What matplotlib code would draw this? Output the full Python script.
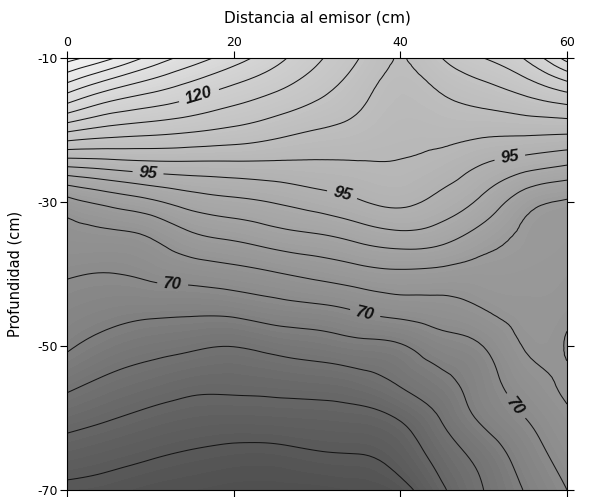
import numpy as np
import matplotlib
matplotlib.use("Agg")
import matplotlib.pyplot as plt
import matplotlib.tri as mtri
from matplotlib.colors import LinearSegmentedColormap, Normalize

plt.rcParams['font.family'] = ['DejaVu Sans']
plt.rcParams['axes.unicode_minus'] = False

# Distance from emitter (cm) and depth (cm) of the grid nodes
distance = [0, 5, 10, 15, 20, 25, 30, 35, 40, 45, 50, 55, 60]
depth = [-10, -15, -20, -25, -30, -35, -40, -45, -50, -55, -60, -65, -70]

# Field values, one list per depth
d10 = [152, 146, 138.6, 132.6, 127.3, 121.7, 115.8, 110.1, 104.8, 110, 115, 120.5, 132]
d15 = [134.6, 128.3, 124.6, 121.2, 117.7, 114.6, 111, 106.5, 103, 105, 107.5, 110.5, 114.2]
d20 = [116.1, 113.3, 112, 110.7, 109.1, 107, 104.9, 103.3, 101.5, 101.7, 101.4, 101.4, 101.3]
d25 = [95.4, 96.7, 97.9, 98.3, 98.5, 98.7, 99, 99.4, 99.6, 97.9, 94.6, 91.8, 89.7]
d30 = [78.3, 81.4, 84, 87.2, 88.8, 90.3, 92.3, 94.5, 96, 93.3, 88.6, 82, 79.5]
d35 = [73.1, 73.6, 75, 78.8, 80.6, 82.6, 84, 86.2, 88, 86.6, 82.4, 79, 78]
d40 = [70.4, 69.9, 70.8, 72, 73.1, 74.6, 76.3, 78, 79, 78.5, 78, 77.8, 77]
d45 = [68, 66.8, 66.2, 66, 66.4, 67.8, 68.7, 70.4, 72, 73, 74.9, 76.6, 76]
d50 = [65.6, 63.2, 61.7, 60.7, 60.1, 61.4, 62.4, 63.6, 64.6, 67.7, 70.1, 75.3, 74.7]
d55 = [61.4, 59.1, 57.6, 56.4, 56.2, 56.6, 57.1, 58.1, 60.6, 63.7, 67.9, 72.8, 75.6]
d60 = [56.8, 55.3, 53.9, 52.9, 52.6, 52.8, 53.1, 53.5, 55.4, 60.4, 66, 70, 74.1]
d65 = [52.7, 51.6, 50.5, 49.6, 49, 49, 49.7, 50, 52, 57.2, 62, 67.4, 72]
d70 = [49, 48.5, 47.5, 47, 46.5, 46.5, 46.5, 47, 48.5, 54.3, 60, 65.3, 70]

x_ticks = [0, 20, 40, 60]
y_ticks = [-10, -30, -50, -70]
y_tick_labels = ['-10', '-30', '-50', '-70']
labelled_levels = [70, 95, 120]

Z = np.array([d10, d15, d20, d25, d30, d35, d40, d45, d50, d55, d60, d65, d70])
X, Y = np.meshgrid(distance, depth)

# smooth rendering of the grid through matplotlib's triangulation refiner
triang = mtri.Triangulation(X.ravel(), Y.ravel())
refiner = mtri.UniformTriRefiner(triang)
tri_fine, z_fine = refiner.refine_field(Z.ravel(), subdiv=3)

cmap = LinearSegmentedColormap.from_list(
    'surfer_grey',
    [(0.0, (0.30, 0.30, 0.30)),
     (0.09, (0.40, 0.40, 0.40)),
     (0.23, (0.55, 0.55, 0.55)),
     (0.36, (0.64, 0.64, 0.64)),
     (0.50, (0.72, 0.72, 0.72)),
     (0.68, (0.81, 0.81, 0.81)),
     (1.0, (0.97, 0.97, 0.97))])
norm = Normalize(vmin=45, vmax=155)

fig = plt.figure(figsize=(5.92, 4.97), dpi=100)
ax = fig.add_axes([0.1132, 0.0141, 0.8446, 0.8692])

ax.tricontourf(tri_fine, z_fine, levels=np.arange(40, 160, 1), cmap=cmap, norm=norm)
line_levels = [v for v in range(50, 155, 5) if v not in labelled_levels]
ax.tricontour(tri_fine, z_fine, levels=line_levels, colors='#151515', linewidths=0.75)
cs_lab = ax.tricontour(tri_fine, z_fine, levels=labelled_levels, colors='#151515',
                       linewidths=0.75)
label_pos = [(16, -15.8), (9.7, -26.3), (33, -29), (53, -23),
             (12.7, -41), (35.8, -45.3), (54, -58.2)]
texts = ax.clabel(cs_lab, manual=label_pos, fmt='%d',
                  fontsize=12, inline=True, inline_spacing=5)
for t in texts:
    t.set_fontweight('bold')
    t.set_fontfamily('Liberation Sans')
    t.set_fontstyle('italic')
    t.set_color('#111111')

ax.set_xlim(0, 60)
ax.set_ylim(-70, -10)
ax.xaxis.tick_top()
ax.set_xticks(x_ticks)
ax.set_xticklabels([str(v) for v in x_ticks])
ax.set_yticks(y_ticks)
ax.set_yticklabels(y_tick_labels)
ax.tick_params(axis='both', direction='out', length=5, width=0.8, labelsize=9,
               top=True, bottom=True, left=True, right=True,
               labeltop=True, labelbottom=False, labelleft=True, labelright=False,
               pad=1.5)
ax.xaxis.set_label_position('top')
ax.set_xlabel('Distancia al emisor (cm)', fontsize=11, labelpad=10)
ax.set_ylabel('Profundidad (cm)', fontsize=10.5, labelpad=11)
for s in ax.spines.values():
    s.set_linewidth(0.8)

fig.savefig('out.png', dpi=100)
